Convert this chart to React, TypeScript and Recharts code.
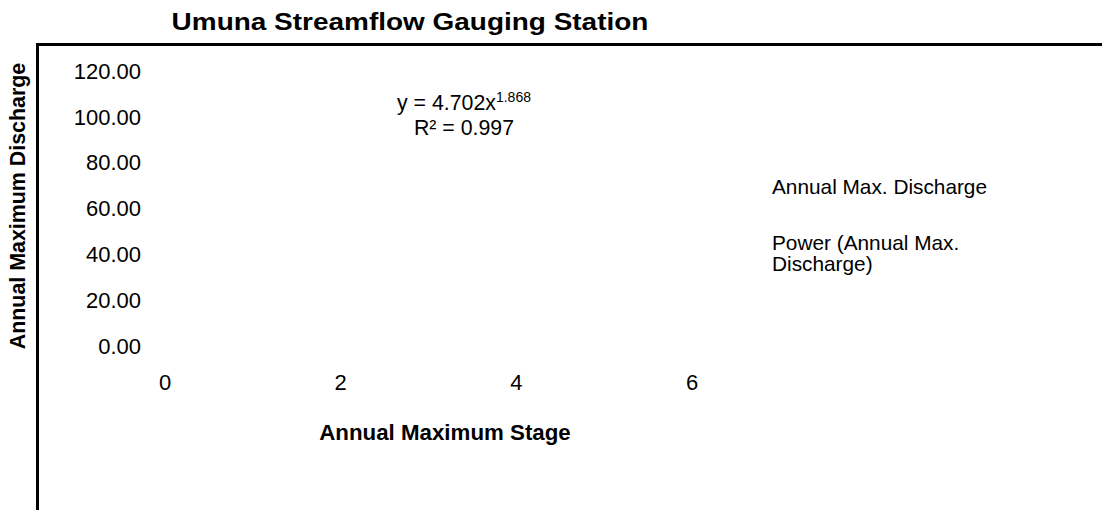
import { ScatterChart, Scatter, XAxis, YAxis } from "recharts"

// the source image shows no visible markers, only the fitted equation text
const stage: number[] = []
const discharge: number[] = []
const xTicks = [0, 2, 4, 6]
const yTicks = [0, 20, 40, 60, 80, 100, 120]
const seriesNames = ["Annual Max. Discharge", "Power (Annual Max. Discharge)"]
const fitCoef = "4.702"
const fitExp = "1.868"
const fitR2 = "0.997"

const points = stage.map((s, i) => ({ stage: s, discharge: discharge[i] }))

const font = "'Liberation Sans', Arial, sans-serif"

export default function App() {
  return (
    <div style={{ position: "absolute", left: 0, top: 0, width: 1102, height: 510, overflow: "hidden", background: "#fff", fontFamily: font, color: "#000" }}>
      <div style={{ position: "absolute", left: 36, top: 43, width: 1100, height: 500, borderTop: "3px solid #000", borderLeft: "3px solid #000" }} />
      <ScatterChart width={1102} height={510} margin={{ top: 71, right: 410, bottom: 104, left: 0 }} style={{ position: "absolute", left: 0, top: 0 }}>
        <XAxis
          type="number"
          dataKey="stage"
          domain={[0, 6]}
          allowDataOverflow
          ticks={xTicks}
          axisLine={false}
          tickLine={false}
          tickSize={8}
          tickMargin={20}
          height={60}
          tick={{ fontSize: 22, fill: "#000", fontFamily: font }}
        />
        <YAxis
          type="number"
          dataKey="discharge"
          domain={[0, 120]}
          allowDataOverflow
          ticks={yTicks}
          axisLine={false}
          tickLine={false}
          tickSize={8}
          tickMargin={16}
          width={165}
          tickFormatter={(v) => v.toFixed(2)}
          tick={{ fontSize: 22, fill: "#000", fontFamily: font }}
        />
        <Scatter name={seriesNames[0]} data={points} fill="#4472C4" isAnimationActive={false} />
      </ScatterChart>
      <div style={{ position: "absolute", left: 410, top: 22, transform: "translate(-50%, -50%) scaleX(1.18)", whiteSpace: "nowrap", fontSize: 23.7, fontWeight: "bold" }}>
        Umuna Streamflow Gauging Station
      </div>
      <div style={{ position: "absolute", left: 18, top: 206, transform: "translate(-50%, -50%) rotate(-90deg)", whiteSpace: "nowrap", fontSize: 21.4, fontWeight: "bold" }}>
        Annual Maximum Discharge
      </div>
      <div style={{ position: "absolute", left: 445, top: 433, transform: "translate(-50%, -50%)", whiteSpace: "nowrap", fontSize: 22.3, fontWeight: "bold" }}>
        Annual Maximum Stage
      </div>
      <div style={{ position: "absolute", left: 464, top: 91, transform: "translateX(-50%)", textAlign: "center", fontSize: 21.3, lineHeight: "25px", whiteSpace: "nowrap" }}>
        <div>y = {fitCoef}x<sup style={{ fontSize: 14, verticalAlign: "8px", lineHeight: 0 }}>{fitExp}</sup></div>
        <div>R² = {fitR2}</div>
      </div>
      <div style={{ position: "absolute", left: 772, top: 176, fontSize: 20.8, lineHeight: "21px" }}>
        <div>{seriesNames[0]}</div>
        <div style={{ marginTop: 35, width: 230 }}>Power (Annual Max.<br />Discharge)</div>
      </div>
    </div>
  )
}
